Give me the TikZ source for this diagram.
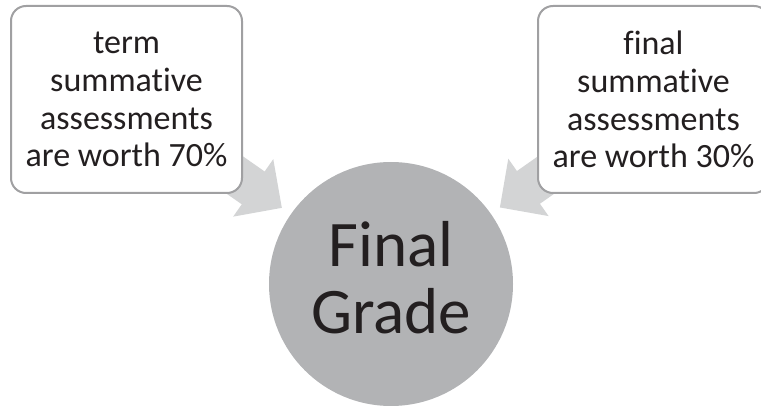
\documentclass[tikz,border=0pt]{standalone}
\usepackage{fontspec}
\setmainfont[Ligatures=NoCommon]{Carlito}
\usetikzlibrary{arrows.meta,positioning,backgrounds}

\definecolor{boxline}{RGB}{160,160,162}
\definecolor{arrowgray}{RGB}{211,212,213}
\definecolor{gradegray}{RGB}{178,179,181}
\definecolor{inktext}{RGB}{35,31,32}

\tikzset{
  part/.style={draw=boxline, line width=2pt, fill=white, rounded corners=15pt, minimum width=231pt, minimum height=187pt, inner sep=0pt, text=inktext, align=center, font=\fontsize{34}{37.8}\selectfont},
  total/.style={circle, fill=gradegray, minimum size=244pt, inner sep=0pt, text=inktext, align=center, font=\fontsize{65}{67.3}\selectfont},
  feed/.style={draw=arrowgray, line width=40pt, -{Triangle[length=35pt, width=68pt]}, shorten >=133pt}
}

\begin{document}
\begin{tikzpicture}[x=1pt, y=-1pt]
    \useasboundingbox (0,0) rectangle (761,406);
    \clip (0,0) rectangle (761,406);
    \node [part] (term) at (126.5,99.5) {term\\summative\\assessments\\are worth 70\%};
    \node [part, right=294pt of term] (final) {final\\summative\\assessments\\are worth 30\%};
    % extra depth lifts the two words a little
    \node [total] (grade) at (391,284) {Final\\Grade\rule[-13pt]{0pt}{13pt}};

    \begin{pgfonlayer}{background}
        \draw [feed] (term.center) -- (grade.center);
        \draw [feed] (final.center) -- (grade.center);
    \end{pgfonlayer}
\end{tikzpicture}
\end{document}
